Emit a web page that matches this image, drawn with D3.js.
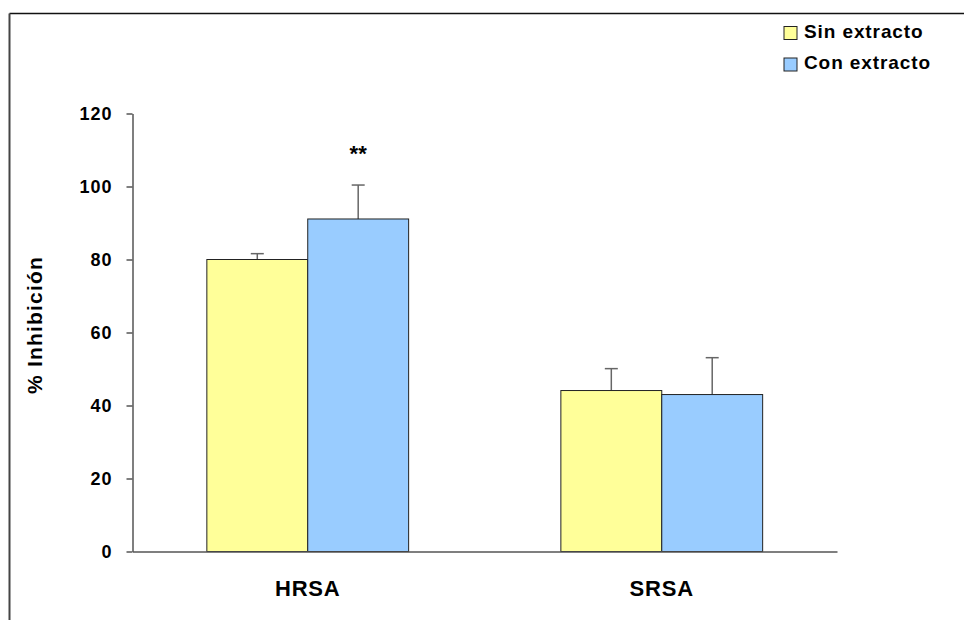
<!DOCTYPE html>
<html>
<head>
<meta charset="utf-8">
<script src="https://cdn.jsdelivr.net/npm/d3@7"></script>
<style>
  body { margin: 0; background: #fff; }
  text { font-family: "Liberation Sans", Arial, sans-serif; font-weight: bold; fill: #000; }
</style>
</head>
<body>
<script>
// data
var categories = ["HRSA", "SRSA"];
var seriesNames = ["Sin extracto", "Con extracto"];
var sinValues = [80, 44.1];
var conValues = [91.1, 43];
var sinErrors = [1.6, 6];
var conErrors = [9.3, 10.1];
var marks = ["**", ""];
var yTicks = [0, 20, 40, 60, 80, 100, 120];

var colors = ["#FFFF99", "#99CCFF"];

var width = 964, height = 620;

var svg = d3.select("body").append("svg")
  .attr("width", width)
  .attr("height", height);

// frame lines (top and left only)
svg.append("line")
  .attr("x1", 9.5).attr("x2", width)
  .attr("y1", 13.5).attr("y2", 13.5)
  .attr("stroke", "#111").attr("stroke-width", 1.5);
svg.append("line")
  .attr("x1", 9.5).attr("x2", 9.5)
  .attr("y1", 13.5).attr("y2", height)
  .attr("stroke", "#444").attr("stroke-width", 2);

var plotLeft = 132.5, plotRight = 837, plotTop = 113.5, plotBottom = 551.5;

var x = d3.scaleBand()
  .domain(categories)
  .range([plotLeft, plotRight])
  .paddingInner(0.43)
  .paddingOuter(0.21);

var xSub = d3.scaleBand()
  .domain(seriesNames)
  .range([0, x.bandwidth()]);

var y = d3.scaleLinear()
  .domain([0, 120])
  .range([plotBottom, plotTop]);

// rows built from the arrays
var rows = categories.map(function (c, i) {
  return [
    { cat: c, name: seriesNames[0], value: sinValues[i], err: sinErrors[i], color: colors[0] },
    { cat: c, name: seriesNames[1], value: conValues[i], err: conErrors[i], color: colors[1] }
  ];
});

// y axis
var yAxis = svg.append("g")
  .attr("transform", "translate(" + plotLeft + ",0)")
  .call(d3.axisLeft(y).tickValues(yTicks).tickSizeInner(6).tickSizeOuter(0).tickPadding(14));
yAxis.select(".domain").attr("stroke", "#555").attr("stroke-width", 1.5);
yAxis.selectAll(".tick line").attr("stroke", "#555").attr("stroke-width", 1.5);
yAxis.selectAll(".tick text")
  .style("font-size", "18px")
  .style("letter-spacing", "1px")
  .attr("fill", "#000");

// y axis title
svg.append("text")
  .attr("transform", "translate(42," + 325 + ") rotate(-90)")
  .style("text-anchor", "middle")
  .style("font-size", "21px")
  .style("letter-spacing", "1.2px")
  .text("% Inhibición");

// bars
var groups = svg.selectAll(".grp")
  .data(rows)
  .enter()
  .append("g")
  .attr("class", "grp")
  .attr("transform", function (d, i) { return "translate(" + x(categories[i]) + ",0)"; });

// error bars (upper only), drawn before bars
groups.selectAll(".err")
  .data(function (d) { return d; })
  .enter()
  .append("line")
  .attr("x1", function (d) { return xSub(d.name) + xSub.bandwidth() / 2; })
  .attr("x2", function (d) { return xSub(d.name) + xSub.bandwidth() / 2; })
  .attr("y1", function (d) { return y(d.value); })
  .attr("y2", function (d) { return y(d.value + d.err); })
  .attr("stroke", "#666").attr("stroke-width", 1.5);

groups.selectAll(".cap")
  .data(function (d) { return d; })
  .enter()
  .append("line")
  .attr("x1", function (d) { return xSub(d.name) + xSub.bandwidth() / 2 - 6.5; })
  .attr("x2", function (d) { return xSub(d.name) + xSub.bandwidth() / 2 + 6.5; })
  .attr("y1", function (d) { return y(d.value + d.err); })
  .attr("y2", function (d) { return y(d.value + d.err); })
  .attr("stroke", "#666").attr("stroke-width", 1.5);

groups.selectAll("rect")
  .data(function (d) { return d; })
  .enter()
  .append("rect")
  .attr("x", function (d) { return xSub(d.name); })
  .attr("y", function (d) { return y(d.value); })
  .attr("width", xSub.bandwidth())
  .attr("height", function (d) { return y(0) - y(d.value); })
  .attr("fill", function (d) { return d.color; })
  .attr("stroke", "#222")
  .attr("stroke-width", 1);

// significance marks above the second bar
groups.append("text")
  .attr("x", function (d) { return xSub(seriesNames[1]) + xSub.bandwidth() / 2; })
  .attr("y", function (d) { return y(d[1].value + d[1].err) - 24; })
  .style("text-anchor", "middle")
  .style("font-size", "22px")
  .text(function (d, i) { return marks[i]; });

// x axis
var xAxis = svg.append("g")
  .attr("transform", "translate(0," + plotBottom + ")")
  .call(d3.axisBottom(x).tickSize(0).tickPadding(29));
xAxis.select(".domain").attr("stroke", "#555").attr("stroke-width", 1.5);
xAxis.selectAll(".tick text")
  .style("font-size", "22px")
  .style("letter-spacing", "0.8px")
  .attr("fill", "#000");

// legend
var legend = svg.selectAll(".legend")
  .data(seriesNames)
  .enter()
  .append("g")
  .attr("class", "legend")
  .attr("transform", function (d, i) { return "translate(784," + (26.5 + i * 31.5) + ")"; });

legend.append("rect")
  .attr("width", 13).attr("height", 13)
  .attr("fill", function (d, i) { return colors[i]; })
  .attr("stroke", "#222").attr("stroke-width", 1);

legend.append("text")
  .attr("x", 20)
  .attr("y", 11)
  .style("font-size", "19px")
  .style("letter-spacing", "0.9px")
  .text(function (d) { return d; });
</script>
</body>
</html>
